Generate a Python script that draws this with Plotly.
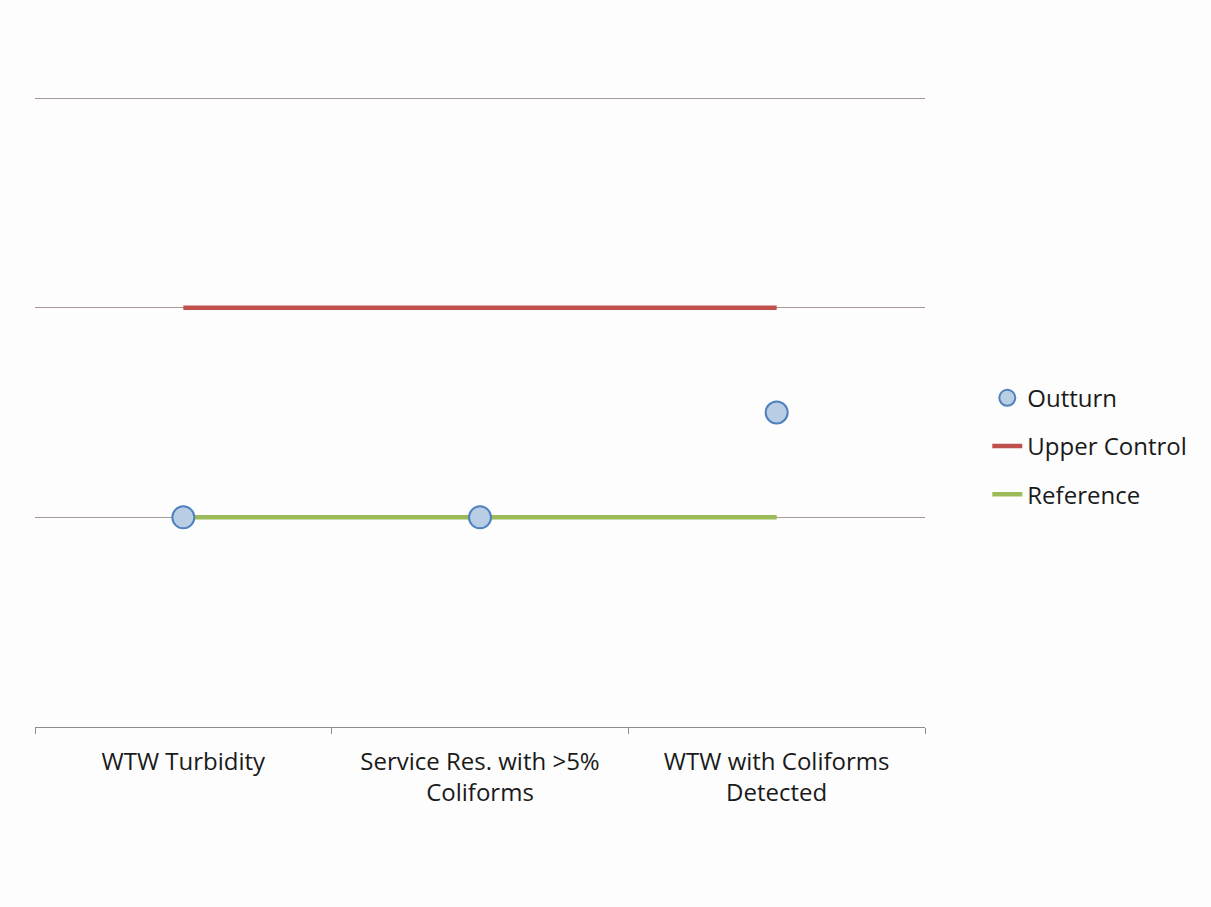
import plotly.graph_objects as go

categories = ["WTW Turbidity", "Service Res. with >5%<br>Coliforms", "WTW with Coliforms<br>Detected"]
outturn = [1, 1, 1.5]
upper_control = [2, 2, 2]
reference = [1, 1, 1]

fig = go.Figure()
fig.add_trace(go.Scatter(x=categories, y=upper_control, mode="lines", name="Upper Control",
                         line=dict(color="#c0504d", width=4.5), legendrank=2, legendgroup="b"))
fig.add_trace(go.Scatter(x=categories, y=reference, mode="lines", name="Reference",
                         line=dict(color="#9bbb59", width=4.5), legendrank=3, legendgroup="c"))
fig.add_trace(go.Scatter(x=categories, y=outturn, mode="markers", name="Outturn",
                         marker=dict(size=22, color="#b9cde5", line=dict(color="#4f81bd", width=2)),
                         legendrank=1, legendgroup="a"))

fig.update_layout(
    width=1211, height=907,
    margin=dict(l=35, r=286, t=96, b=180),
    paper_bgcolor="#fdfdfd", plot_bgcolor="#fdfdfd",
    font=dict(family="Open Sans, sans-serif", size=24, color="#1a1a1a"),
    legend=dict(x=1.07, y=0.445, xanchor="left", yanchor="middle",
                tracegroupgap=14, bgcolor="rgba(0,0,0,0)", font=dict(size=24)),
    showlegend=True,
)
fig.update_xaxes(type="category", range=[-0.5, 2.5], showline=True, linecolor="#8c8c8c", linewidth=1,
                 ticks="outside", tickson="boundaries", ticklen=6, tickcolor="#8c8c8c",
                 showgrid=False, zeroline=False, ticklabelstandoff=13)
fig.update_yaxes(range=[0, 3.01], dtick=1, tick0=0, showticklabels=False, showgrid=True,
                 gridcolor="#a89a9a", gridwidth=1, zeroline=False, showline=False)

fig.write_html("out.html")
